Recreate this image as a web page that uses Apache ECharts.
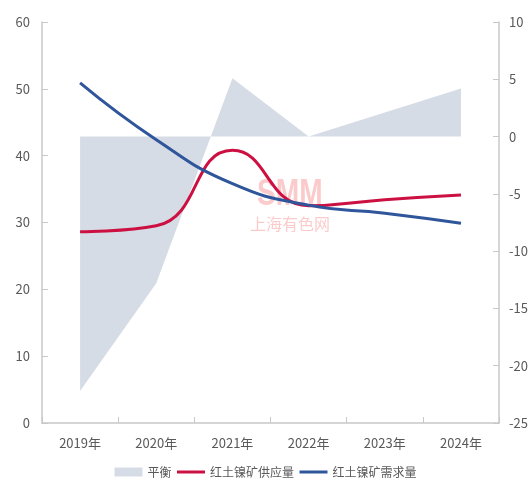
<!DOCTYPE html>
<html>
<head>
<meta charset="utf-8">
<script src="https://cdn.jsdelivr.net/npm/echarts@6/dist/echarts.min.js"></script>
<style>
  html, body { margin: 0; padding: 0; background: #fff; }
  #chart { width: 531px; height: 479px; }
</style>
</head>
<body>
<div id="chart"></div>
<script>
// 年份
const years = ['2019年', '2020年', '2021年', '2022年', '2023年', '2024年'];
// 平衡（右轴）
const balance = [-22.2, -12.8, 5.1, 0, 2.1, 4.2];
// 红土镍矿供应量（左轴）
const supply = [28.6, 29.5, 40.8, 32.5, 33.4, 34.1];
// 红土镍矿需求量（左轴）
const demand = [50.9, 42.4, 35.8, 32.6, 31.4, 29.9];

const chart = echarts.init(document.getElementById('chart'));

const axisLabelStyle = {
  color: '#595959',
  fontSize: 13,
  fontFamily: 'Noto Sans CJK SC'
};
const axisLineStyle = {
  show: true,
  lineStyle: { color: '#c8c8c8', width: 1.5 }
};
const tickStyle = { show: true, inside: true, length: 6, lineStyle: { color: '#c8c8c8' } };

const option = {
  backgroundColor: '#fff',
  animation: false,
  grid: {
    left: 42,
    right: 31,
    top: 22,
    bottom: 56
  },
  legend: {
    bottom: 1,
    left: 'center',
    padding: 0,
    itemGap: 4,
    itemWidth: 28,
    itemHeight: 9,
    textStyle: {
      color: '#595959',
      fontSize: 12,
      fontFamily: 'Noto Sans CJK SC'
    },
    data: [
      { name: '平衡', icon: 'rect' },
      { name: '红土镍矿供应量', itemStyle: { opacity: 0 }, lineStyle: { width: 3 } },
      { name: '红土镍矿需求量', itemStyle: { opacity: 0 }, lineStyle: { width: 3 } }
    ]
  },
  // SMM 水印
  graphic: [
    {
      type: 'text',
      x: 257,
      y: 176,
      scaleX: 0.76,
      silent: true,
      style: {
        text: 'SMM',
        fill: 'rgba(245, 115, 115, 0.38)',
        font: 'bold 37px "Liberation Sans"'
      }
    },
    {
      type: 'text',
      left: 250,
      top: 216,
      silent: true,
      style: {
        text: '上海有色网',
        fill: 'rgba(245, 115, 115, 0.38)',
        font: '16px "Noto Sans CJK SC"'
      }
    }
  ],
  xAxis: {
    type: 'category',
    data: years,
    boundaryGap: true,
    axisLine: axisLineStyle,
    axisTick: tickStyle,
    axisLabel: { ...axisLabelStyle, margin: 14 },
    splitLine: { show: false }
  },
  yAxis: [
    {
      type: 'value',
      min: 0,
      max: 60,
      interval: 10,
      axisLine: axisLineStyle,
      axisTick: tickStyle,
      axisLabel: { ...axisLabelStyle, margin: 12 },
      splitLine: { show: false }
    },
    {
      type: 'value',
      min: -25,
      max: 10,
      interval: 5,
      position: 'right',
      axisLine: axisLineStyle,
      axisTick: tickStyle,
      axisLabel: { ...axisLabelStyle, margin: 10 },
      splitLine: { show: false }
    }
  ],
  series: [
    {
      name: '平衡',
      type: 'line',
      yAxisIndex: 1,
      data: balance,
      symbol: 'none',
      itemStyle: { color: '#d6dce5' },
      lineStyle: { width: 0 },
      areaStyle: { color: '#d6dce5', opacity: 1, origin: 0 },
      z: 1
    },
    {
      name: '红土镍矿供应量',
      type: 'line',
      yAxisIndex: 0,
      data: supply,
      smooth: 0.5,
      symbol: 'none',
      itemStyle: { color: '#cc1142' },
      lineStyle: { color: '#cc1142', width: 3 },
      z: 3
    },
    {
      name: '红土镍矿需求量',
      type: 'line',
      yAxisIndex: 0,
      data: demand,
      smooth: 0.5,
      symbol: 'none',
      itemStyle: { color: '#2f559a' },
      lineStyle: { color: '#2f559a', width: 3 },
      z: 4
    }
  ]
};

chart.setOption(option);
</script>
</body>
</html>
